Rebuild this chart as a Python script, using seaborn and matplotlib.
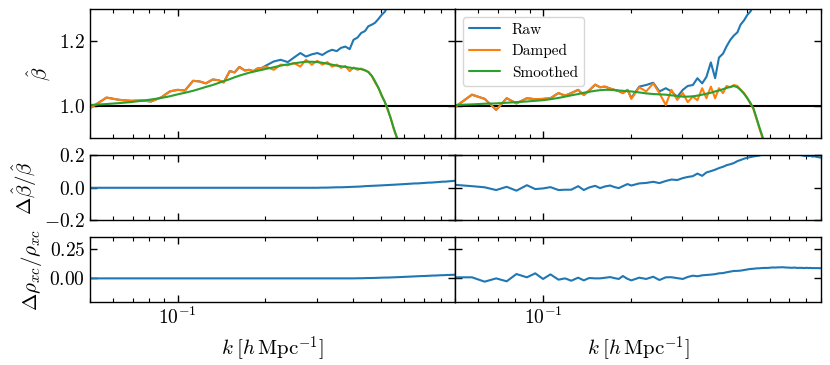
import numpy as np
import pandas as pd
import seaborn as sns
import matplotlib.pyplot as plt
from matplotlib.ticker import NullLocator

# -----------------------------
# datos
# -----------------------------
nan = np.nan

k = [0.050, 0.057, 0.063, 0.069, 0.075, 0.081, 0.088, 0.094, 0.100, 0.106, 0.113, 0.119,
     0.125, 0.132, 0.138, 0.144, 0.151, 0.157, 0.163, 0.170, 0.176, 0.182, 0.188, 0.195,
     0.201, 0.214, 0.226, 0.239, 0.251, 0.264, 0.276, 0.289, 0.302, 0.314,
     0.327, 0.339, 0.352, 0.364, 0.377, 0.390, 0.402, 0.415, 0.427, 0.440,
     0.452, 0.465, 0.477, 0.490, 0.503, 0.515, 0.528, 0.540, 0.553, 0.565,
     0.578, 0.591, 0.603, 0.616, 0.628, 0.641, 0.653, 0.666, 0.679, 0.691,
     0.704, 0.716, 0.729, 0.741, 0.754, 0.766, 0.779, 0.792, 0.804, 0.817,
     0.829, 0.842, 0.854, 0.867, 0.880, 0.892, 0.905]

# panel izquierdo
raw_left = [0.993, 1.026, 1.019, 1.016, 1.017, 1.014, 1.027, 1.045, 1.050, 1.048, 1.078, 1.076,
            1.070, 1.082, 1.080, 1.073, 1.108, 1.104, 1.121, 1.110, 1.112, 1.108, 1.116, 1.118,
            1.125, 1.138, 1.143, 1.136, 1.150, 1.164, 1.153, 1.160, 1.164, 1.158,
            1.168, 1.174, 1.170, 1.180, 1.184, 1.176, 1.205, 1.212, 1.226, 1.232,
            1.247, 1.252, 1.258, 1.270, 1.283, 1.292, 1.310, 1.330, nan, nan,
            nan, nan, nan, nan, nan, nan, nan, nan, nan, nan,
            nan, nan, nan, nan, nan, nan, nan, nan, nan, nan,
            nan, nan, nan, nan, nan, nan, nan]
damped_left = [0.993, 1.026, 1.019, 1.016, 1.017, 1.014, 1.027, 1.045, 1.050, 1.048, 1.078, 1.076,
               1.070, 1.082, 1.080, 1.073, 1.108, 1.104, 1.121, 1.110, 1.112, 1.108, 1.116, 1.118,
               1.122, 1.112, 1.128, 1.126, 1.133, 1.122, 1.143, 1.128, 1.140, 1.128,
               1.136, 1.122, 1.128, 1.118, 1.124, 1.108, 1.119, 1.112, 1.116, 1.110,
               1.106, 1.092, 1.072, 1.056, 1.030, 1.013, 0.985, 0.962, 0.928, 0.905,
               0.875, 0.845, nan, nan, nan, nan, nan, nan, nan, nan,
               nan, nan, nan, nan, nan, nan, nan, nan, nan, nan,
               nan, nan, nan, nan, nan, nan, nan]
smooth_left = [1.003, 1.006, 1.009, 1.012, 1.016, 1.020, 1.025, 1.030, 1.036, 1.041, 1.047, 1.053,
               1.059, 1.065, 1.071, 1.077, 1.083, 1.089, 1.094, 1.099, 1.103, 1.106, 1.109, 1.112,
               1.115, 1.120, 1.125, 1.129, 1.132, 1.135, 1.137, 1.137, 1.136, 1.134,
               1.131, 1.128, 1.125, 1.123, 1.121, 1.119, 1.117, 1.116, 1.114, 1.111,
               1.105, 1.093, 1.076, 1.055, 1.032, 1.012, 0.988, 0.960, 0.930, 0.905,
               0.878, 0.848, nan, nan, nan, nan, nan, nan, nan, nan,
               nan, nan, nan, nan, nan, nan, nan, nan, nan, nan,
               nan, nan, nan, nan, nan, nan, nan]
dbeta_left = [0.000, 0.000, 0.000, 0.000, 0.000, 0.000, 0.000, 0.000, 0.000, 0.000, 0.000, 0.000,
              0.000, 0.000, 0.000, 0.000, 0.000, 0.000, 0.000, 0.000, 0.000, 0.000, 0.000, 0.000,
              0.000, 0.000, 0.000, 0.000, 0.000, 0.000, 0.000, 0.000, 0.000, 0.001,
              0.001, 0.002, 0.003, 0.003, 0.004, 0.005, 0.006, 0.007, 0.008, 0.010,
              0.011, 0.012, 0.013, 0.014, 0.015, 0.016, 0.017, 0.018, 0.019, 0.020,
              0.021, 0.022, 0.023, 0.024, 0.025, 0.026, 0.027, 0.027, 0.028, 0.029,
              0.030, 0.031, 0.032, 0.032, 0.033, 0.034, 0.035, 0.036, 0.037, 0.038,
              0.038, 0.039, 0.040, 0.041, 0.042, 0.043, 0.044]
drho_left = [0.000, 0.000, 0.000, 0.000, 0.000, 0.000, 0.000, 0.000, 0.000, 0.000, 0.000, 0.000,
             0.000, 0.000, 0.000, 0.000, 0.000, 0.000, 0.000, 0.000, 0.000, 0.000, 0.000, 0.000,
             0.000, 0.000, 0.000, 0.000, 0.000, 0.000, 0.000, 0.000, 0.000, 0.000,
             0.000, 0.000, 0.000, 0.000, 0.000, 0.000, 0.000, 0.001, 0.001, 0.002,
             0.003, 0.003, 0.004, 0.005, 0.006, 0.007, 0.007, 0.008, 0.009, 0.010,
             0.011, 0.012, 0.013, 0.014, 0.015, 0.016, 0.017, 0.018, 0.019, 0.020,
             0.020, 0.021, 0.022, 0.023, 0.024, 0.024, 0.025, 0.026, 0.027, 0.027,
             0.028, 0.029, 0.029, 0.030, 0.030, 0.031, 0.031]

# panel derecho
raw_right = [0.998, 1.035, 1.022, 0.988, 1.024, 1.008, 1.024, 1.021, 1.022, 1.024, 1.040, 1.032,
             1.040, 1.050, 1.034, 1.048, 1.066, 1.058, 1.060, 1.054, 1.050, 1.046, 1.040, 1.050,
             1.025, 1.060, 1.065, 1.072, 1.045, 1.055, 1.045, 1.028, 1.050, 1.062,
             1.065, 1.086, 1.070, 1.090, 1.135, 1.086, 1.150, 1.162, 1.185, 1.205,
             1.218, 1.228, 1.252, 1.265, 1.282, 1.292, 1.310, 1.330, nan, nan,
             nan, nan, nan, nan, nan, nan, nan, nan, nan, nan,
             nan, nan, nan, nan, nan, nan, nan, nan, nan, nan,
             nan, nan, nan, nan, nan, nan, nan]
damped_right = [0.998, 1.035, 1.022, 0.988, 1.024, 1.008, 1.024, 1.021, 1.022, 1.024, 1.040, 1.032,
                1.040, 1.050, 1.034, 1.048, 1.066, 1.058, 1.060, 1.054, 1.050, 1.046, 1.040, 1.050,
                1.022, 1.058, 1.045, 1.070, 1.040, 1.003, 1.050, 1.019, 1.040, 1.012,
                1.029, 1.018, 1.055, 1.024, 1.060, 1.024, 1.055, 1.040, 1.062, 1.058,
                1.065, 1.062, 1.050, 1.040, 1.025, 1.008, 0.990, 0.962, 0.932, 0.905,
                0.875, 0.845, nan, nan, nan, nan, nan, nan, nan, nan,
                nan, nan, nan, nan, nan, nan, nan, nan, nan, nan,
                nan, nan, nan, nan, nan, nan, nan]
smooth_right = [1.003, 1.005, 1.007, 1.008, 1.010, 1.012, 1.014, 1.016, 1.018, 1.021, 1.025, 1.029,
                1.033, 1.037, 1.041, 1.044, 1.047, 1.049, 1.050, 1.050, 1.049, 1.048, 1.047, 1.046,
                1.045, 1.042, 1.039, 1.037, 1.036, 1.035, 1.033, 1.031, 1.029, 1.029,
                1.030, 1.032, 1.035, 1.038, 1.041, 1.045, 1.048, 1.052, 1.056, 1.059,
                1.062, 1.058, 1.050, 1.038, 1.024, 1.010, 0.993, 0.965, 0.935, 0.910,
                0.880, 0.850, nan, nan, nan, nan, nan, nan, nan, nan,
                nan, nan, nan, nan, nan, nan, nan, nan, nan, nan,
                nan, nan, nan, nan, nan, nan, nan]
dbeta_right = [0.018, 0.010, 0.003, -0.014, 0.006, -0.018, 0.016, -0.008, -0.004, 0.004, -0.014, -0.012,
               -0.012, 0.010, -0.014, 0.002, 0.012, -0.002, 0.008, 0.014, 0.004, -0.002, 0.010, 0.023,
               0.014, 0.027, 0.030, 0.037, 0.029, 0.042, 0.051, 0.048, 0.060, 0.067,
               0.072, 0.088, 0.074, 0.095, 0.103, 0.112, 0.122, 0.130, 0.140, 0.146,
               0.153, 0.165, 0.172, 0.180, 0.186, 0.190, 0.194, 0.197, 0.200, 0.204,
               0.207, 0.210, 0.212, 0.214, 0.215, 0.216, 0.217, 0.218, 0.218, 0.217,
               0.216, 0.214, 0.212, 0.210, 0.207, 0.203, 0.200, 0.197, 0.199, 0.196,
               0.198, 0.193, 0.195, 0.192, 0.190, 0.188, 0.186]
drho_right = [0.009, 0.009, -0.028, 0.000, -0.025, 0.037, 0.009, 0.043, -0.005, 0.034, -0.011, 0.000,
              -0.020, 0.006, -0.017, 0.003, 0.000, 0.000, 0.005, 0.011, 0.002, -0.005, 0.020, -0.004,
              -0.017, 0.006, -0.005, 0.014, -0.014, 0.009, 0.010, 0.002, -0.005, 0.012,
              0.023, 0.018, 0.026, 0.029, 0.032, 0.036, 0.043, 0.045, 0.052, 0.058,
              0.063, 0.064, 0.066, 0.071, 0.076, 0.080, 0.082, 0.085, 0.086, 0.088,
              0.089, 0.089, 0.091, 0.093, 0.092, 0.094, 0.094, 0.095, 0.093, 0.092,
              0.091, 0.090, 0.092, 0.090, 0.089, 0.090, 0.089, 0.088, 0.090, 0.088,
              0.089, 0.087, 0.088, 0.087, 0.088, 0.086, 0.087]

etiquetas = ["Raw", "Damped", "Smoothed"]

# -----------------------------
# estilo
# -----------------------------
sns.set_style("ticks")
plt.rcParams.update({
    "font.family": "serif",
    "font.serif": ["cmr10"],
    "mathtext.fontset": "cm",
    "axes.formatter.use_mathtext": True,
    "axes.edgecolor": "black",
    "xtick.color": "black",
    "ytick.color": "black",
    "text.color": "black",
    "axes.labelcolor": "black",
    "axes.linewidth": 1.0,
})
colores = sns.color_palette("tab10")[:3]

fig, axes = plt.subplots(3, 2, figsize=(8.3, 3.65), dpi=100, sharex=True, sharey="row",
                         gridspec_kw={"height_ratios": [2, 1, 1], "hspace": 0.2, "wspace": 0.0})
fig.subplots_adjust(left=0.1084, right=0.989, top=0.975, bottom=0.173)

paneles = [
    (raw_left, damped_left, smooth_left, dbeta_left, drho_left),
    (raw_right, damped_right, smooth_right, dbeta_right, drho_right),
]

for col, (raw, damped, smooth, dbeta, drho) in enumerate(paneles):
    ax = axes[0, col]
    ax.axhline(1.0, color="black", lw=1.5)
    for serie, color, nombre in zip([raw, damped, smooth], colores, etiquetas):
        df = pd.DataFrame({"k": k, "v": serie}).dropna()
        sns.lineplot(data=df, x="k", y="v", ax=ax, color=color, lw=1.5,
                     label=nombre if col == 1 else None)
    sns.lineplot(x=k, y=dbeta, ax=axes[1, col], color=colores[0], lw=1.5)
    sns.lineplot(x=k, y=drho, ax=axes[2, col], color=colores[0], lw=1.5)

for ax in axes.flat:
    ax.set_xscale("log")
    ax.set_xlim(0.05, 0.9)
    ax.set_xlabel("")
    ax.set_ylabel("")
    ax.yaxis.set_minor_locator(NullLocator())
    ax.tick_params(which="both", direction="in", top=True, right=True, labelsize=14)
    ax.tick_params(which="major", length=5, width=1)
    ax.tick_params(which="minor", length=3, width=0.8)

axes[0, 0].set_ylim(0.9, 1.3)
axes[0, 0].set_yticks([1.0, 1.2])
axes[1, 0].set_ylim(-0.2, 0.2)
axes[1, 0].set_yticks([-0.2, 0.0, 0.2])
axes[2, 0].set_ylim(-0.2, 0.35)
axes[2, 0].set_yticks([0.0, 0.25])

axes[0, 0].set_ylabel(r"$\hat{\beta}$", fontsize=15)
axes[1, 0].set_ylabel(r"$\Delta\hat{\beta}/\hat{\beta}$", fontsize=15)
axes[2, 0].set_ylabel(r"$\Delta\rho_{xc}/\rho_{xc}$", fontsize=15)
for ax in axes[2]:
    ax.set_xlabel(r"$k\;[h\,\mathrm{Mpc}^{-1}]$", fontsize=15)

if axes[0, 0].get_legend() is not None:
    axes[0, 0].get_legend().remove()
axes[0, 1].legend(loc="upper left", fontsize=11)

plt.savefig("out.png", dpi=100)
